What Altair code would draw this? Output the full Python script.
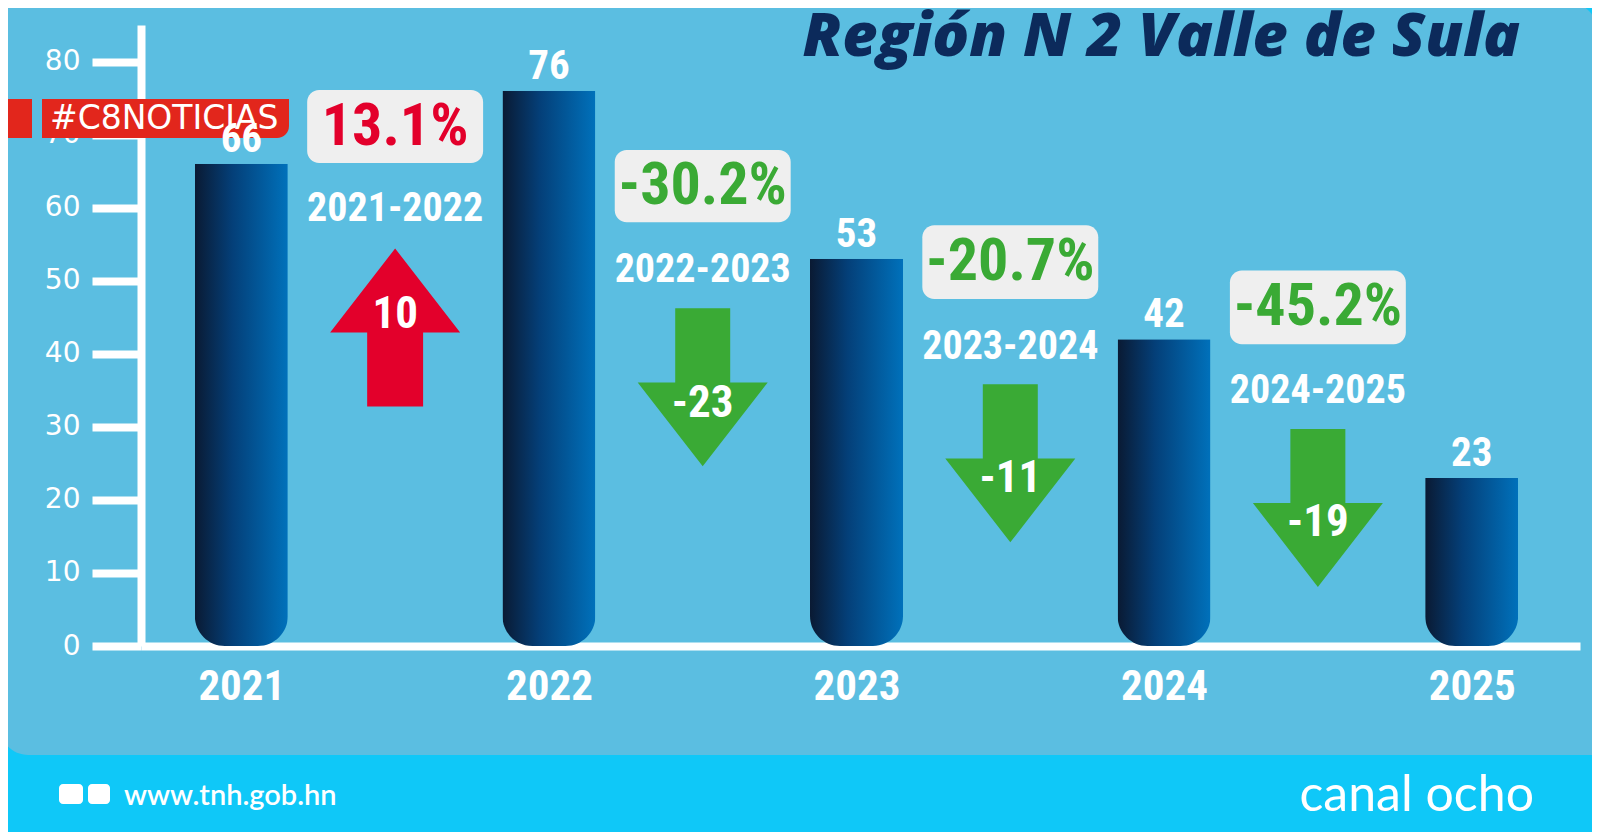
import altair as alt
import pandas as pd

# ---------------- data ----------------
years = [2021, 2022, 2023, 2024, 2025]
cases = [66, 76, 53, 42, 23]
periods = ["2021-2022", "2022-2023", "2023-2024", "2024-2025"]
changes = [10, -23, -11, -19]
pct_labels = ["13.1%", "-30.2%", "-20.7%", "-45.2%"]
y_tick_values = [0, 10, 20, 30, 40, 50, 60, 70, 80]

title_text = "Región N 2 Valle de Sula"
tag_text = "#C8NOTICIAS"
site_text = "www.tnh.gob.hn"
brand_text = "canal ocho"

# ---------------- annotation layout (y in data units) ----------------
arrow_mid_y = [43.6, 35.4, 25.0, 18.9]
arrow_text_y = [45.4, 33.2, 23.0, 17.0]
box_top_y = [76.1, 67.9, 57.6, 51.4]
box_bottom_y = [66.1, 58.0, 47.5, 41.3]
period_text_y = [59.8, 51.4, 40.9, 34.9]
BOX_HALF = 0.286  # half box width, in years

# ---------------- styles ----------------
PANEL = "#5bbee1"
CYAN = "#0fc8f8"
NAVY = "#0c2a5b"
RED = "#e3002b"
GREEN = "#3aaa35"
BOXFILL = "#efefef"
BADGE = "#e2261c"
COND = "Roboto Condensed, Noto Sans Condensed, Liberation Sans Narrow, Arial Narrow, Roboto"

W, H = 1439, 621
X0, Y0 = 141, 25  # page position of the plot origin


def px(x):
    return x - X0


def py(y):
    return y - Y0


xscale = alt.Scale(domain=[2020.69, 2025.336], nice=False, zero=False)
yscale = alt.Scale(domain=[0, 85], nice=False)

xaxis = alt.Axis(values=years, format="d", ticks=False, tickSize=0,
                 domainColor="white", domainWidth=8, labelColor="white",
                 labelFont=COND, labelFontSize=43, labelFontWeight="bold",
                 labelPadding=19, grid=False, title=None, labelFlush=False,
                 zindex=0)
yaxis = alt.Axis(values=y_tick_values, tickSize=49, tickWidth=8, tickColor="white",
                 domainColor="white", domainWidth=8, labelColor="white",
                 labelFont="DejaVu Sans", labelFontSize=28, labelPadding=12,
                 grid=False, title=None, zindex=0)


def X(field):
    return alt.X(field, type="quantitative", scale=xscale, axis=xaxis, title=None)


def Y(field):
    return alt.Y(field, type="quantitative", scale=yscale, axis=yaxis, title=None)


bars_df = pd.DataFrame({"year": years, "cases": cases})
ann_df = pd.DataFrame({
    "mid": [y + 0.5 for y in years[:-1]],
    "period": periods,
    "change": changes,
    "change_label": [str(c) for c in changes],
    "pct": pct_labels,
    "arrow_y": arrow_mid_y,
    "arrow_text_y": arrow_text_y,
    "box_top": box_top_y,
    "box_bottom": box_bottom_y,
    "period_y": period_text_y,
})
ann_df["box_l"] = ann_df["mid"] - BOX_HALF
ann_df["box_r"] = ann_df["mid"] + BOX_HALF
ann_df["box_mid"] = (ann_df["box_top"] + ann_df["box_bottom"]) / 2
one = pd.DataFrame({"k": [0]})


def deco_rect(x1, x2, y1, y2, color, **kw):
    return alt.Chart(one).mark_rect(color=color, **kw).encode(
        x=alt.value(px(x1)), x2=alt.value(px(x2)),
        y=alt.value(py(y1)), y2=alt.value(py(y2)))


def deco_text(x, y, text, **kw):
    return alt.Chart(one).mark_text(text=text, **kw).encode(
        x=alt.value(px(x)), y=alt.value(py(y)))


# background pieces (cyan bottom band and rounded corners)
band = deco_rect(0, 1600, 755, 840, CYAN)
corner_bl_c = deco_rect(0, 56, 699, 755, CYAN)
corner_bl_p = deco_rect(0, 56, 699, 755, PANEL, cornerRadiusBottomLeft=56)
corner_tr_c = deco_rect(1525, 1600, 0, 75, CYAN)
corner_tr_p = deco_rect(1525, 1600, 0, 75, PANEL, cornerRadiusTopRight=75)

bar_grad = alt.Gradient(
    gradient="linear",
    stops=[alt.GradientStop(color="#0a1a33", offset=0),
           alt.GradientStop(color="#043f78", offset=0.4),
           alt.GradientStop(color="#0071bb", offset=1)],
    x1=0, x2=1, y1=0, y2=0)

bars = alt.Chart(bars_df).mark_bar(
    size=93, color=bar_grad, cornerRadiusBottomLeft=30, cornerRadiusBottomRight=30
).encode(x=X("year"), y=Y("cases"))

bar_labels = alt.Chart(bars_df).mark_text(
    font=COND, fontSize=41, fontWeight="bold", color="white", dy=-12,
    baseline="alphabetic"
).encode(x=X("year"), y=Y("cases"), text=alt.Text("cases:Q"))

UP = "M0,-1 L0.823,0.063 L0.354,0.063 L0.354,1 L-0.354,1 L-0.354,0.063 L-0.823,0.063 Z"
DOWN = "M-0.348,-1 L0.348,-1 L0.348,-0.063 L0.823,-0.063 L0,1 L-0.823,-0.063 L-0.348,-0.063 Z"

up_arrows = alt.Chart(ann_df).transform_filter("datum.change > 0").mark_point(
    shape=UP, filled=True, opacity=1, color=RED, size=158 * 158, strokeWidth=0
).encode(x=X("mid"), y=Y("arrow_y"))

down_arrows = alt.Chart(ann_df).transform_filter("datum.change < 0").mark_point(
    shape=DOWN, filled=True, opacity=1, color=GREEN, size=158 * 158, strokeWidth=0
).encode(x=X("mid"), y=Y("arrow_y"))

arrow_text = alt.Chart(ann_df).mark_text(
    font=COND, fontSize=45, fontWeight="bold", color="white", baseline="middle"
).encode(x=X("mid"), y=Y("arrow_text_y"), text="change_label:N")

boxes = alt.Chart(ann_df).mark_rect(color=BOXFILL, cornerRadius=12).encode(
    x=X("box_l"), x2=alt.X2("box_r"), y=Y("box_top"), y2=alt.Y2("box_bottom"))

pct_text = alt.Chart(ann_df).mark_text(
    font=COND, fontSize=60, fontWeight="bold", baseline="middle"
).encode(
    x=X("mid"), y=Y("box_mid"), text="pct:N",
    color=alt.condition("datum.change > 0", alt.value(RED), alt.value(GREEN)))

period_text = alt.Chart(ann_df).mark_text(
    font=COND, fontSize=40, fontWeight="bold", color="white", baseline="middle"
).encode(x=X("mid"), y=Y("period_y"), text="period:N")

title = deco_text(1520, 56, title_text, align="right", baseline="alphabetic",
                  font="Open Sans", fontSize=61, fontWeight=800, fontStyle="italic",
                  color=NAVY)

badge_a = deco_rect(0, 32, 99, 138, BADGE)
badge_b = deco_rect(42, 289, 99, 138, BADGE, cornerRadiusBottomRight=12)
badge_t = deco_text(50, 119, tag_text, align="left", baseline="middle",
                    font="DejaVu Sans", fontSize=33, color="white")

sq1 = deco_rect(59, 83, 784, 804, "white", cornerRadius=4)
sq2 = deco_rect(88, 110, 784, 804, "white", cornerRadius=4)
site = deco_text(124, 796, site_text, align="left", baseline="middle",
                 font="Lato", fontSize=29, fontWeight=600, color="white")
brand = deco_text(1534, 796, brand_text, align="right", baseline="middle",
                  font="Lato", fontSize=50, color="white")

chart = alt.layer(
    band, corner_bl_c, corner_bl_p, corner_tr_c, corner_tr_p,
    bars, up_arrows, down_arrows, arrow_text,
    boxes, pct_text, period_text,
    title, badge_a, badge_b, badge_t, bar_labels,
    sq1, sq2, site, brand,
).properties(
    width=W, height=H,
    padding={"left": 133, "top": 17, "right": 12, "bottom": 186},
    autosize=alt.AutoSizeParams(type="none"),
    background=PANEL,
).configure_view(stroke=None)

chart.save("out.html", embed_options={"renderer": "svg", "actions": False})
